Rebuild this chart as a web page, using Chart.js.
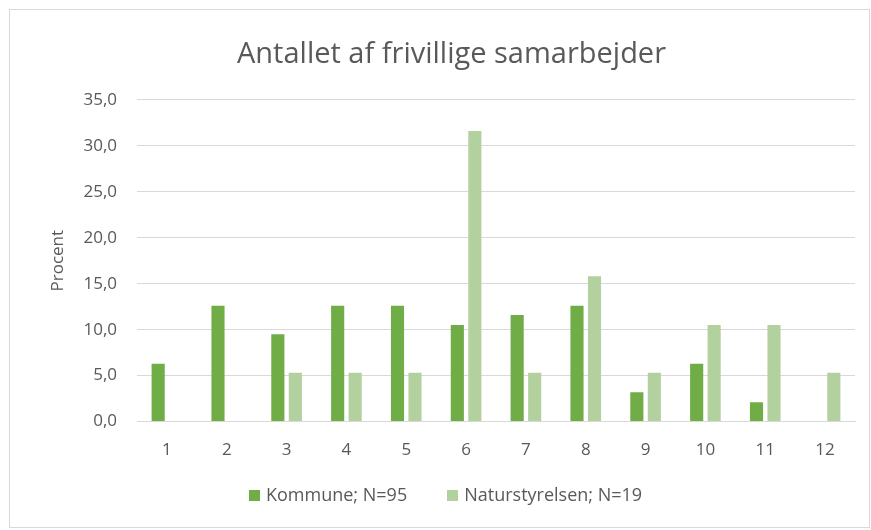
<!DOCTYPE html>
<html>
<head>
<meta charset="utf-8">
<script src="https://cdn.jsdelivr.net/npm/chart.js@4/dist/chart.umd.min.js"></script>
<style>
  html, body { margin: 0; padding: 0; background: #fff; }
  #wrap {
    position: absolute; left: 9px; top: 9px;
    width: 859px; height: 517px;
    border: 1px solid #d9d9d9;
  }
  canvas { display: block; }
  #legend {
    position: absolute; left: 239px; top: 472px;
    white-space: nowrap;
    font-family: 'Open Sans', 'Noto Sans', sans-serif;
    font-size: 18px; color: #595959;
  }
  #legend .item { display: inline-block; margin-right: 40px; }
  #legend .box {
    display: inline-block; width: 11px; height: 11px;
    margin-right: 6px; vertical-align: 0px;
  }
</style>
</head>
<body>
<div id="wrap">
  <canvas id="chart" width="859" height="517"></canvas>
  <div id="legend"></div>
</div>
<script>
// Chart data
const categories = ['1', '2', '3', '4', '5', '6', '7', '8', '9', '10', '11', '12'];
const kommuneValues = [6.3, 12.6, 9.5, 12.6, 12.6, 10.5, 11.6, 12.6, 3.2, 6.3, 2.1, 0];
const naturValues = [0, 0, 5.3, 5.3, 5.3, 31.6, 5.3, 15.8, 5.3, 10.5, 10.5, 5.3];
const seriesLabels = ['Kommune; N=95', 'Naturstyrelsen; N=19'];
const seriesColors = ['#70ad47', '#b3d19f'];
const yTicks = [0, 5, 10, 15, 20, 25, 30, 35];

const FONT = "'Open Sans', 'Noto Sans', sans-serif";
const textGrey = '#595959';

// Legend as html, under the plot
const legendEl = document.getElementById('legend');
seriesLabels.forEach((label, i) => {
  const item = document.createElement('span');
  item.className = 'item';
  const box = document.createElement('span');
  box.className = 'box';
  box.style.background = seriesColors[i];
  item.appendChild(box);
  item.appendChild(document.createTextNode(label));
  legendEl.appendChild(item);
});

const ctx = document.getElementById('chart').getContext('2d');
new Chart(ctx, {
  type: 'bar',
  data: {
    labels: categories,
    datasets: [
      {
        label: seriesLabels[0],
        data: kommuneValues,
        backgroundColor: seriesColors[0],
        barPercentage: 0.75,
        categoryPercentage: 0.585
      },
      {
        label: seriesLabels[1],
        data: naturValues,
        backgroundColor: seriesColors[1],
        barPercentage: 0.75,
        categoryPercentage: 0.585
      }
    ]
  },
  options: {
    responsive: false,
    animation: false,
    layout: { padding: { left: 38, right: 14, top: 14, bottom: 49 } },
    plugins: {
      title: {
        display: true,
        text: 'Antallet af frivillige samarbejder',
        color: textGrey,
        font: { family: FONT, size: 29, weight: 'normal' },
        padding: { top: 13, bottom: 28 }
      },
      legend: { display: false },
      tooltip: { enabled: false }
    },
    scales: {
      x: {
        grid: { display: false, drawTicks: false },
        border: { color: '#d9d9d9' },
        ticks: { color: textGrey, font: { family: FONT, size: 17 }, padding: 18 }
      },
      y: {
        min: 0,
        max: 35,
        afterBuildTicks: scale => { scale.ticks = yTicks.map(v => ({ value: v })); },
        afterFit: scale => { scale.width = 89; },
        grid: { color: '#d9d9d9', drawTicks: false },
        border: { display: false },
        ticks: {
          color: textGrey,
          font: { family: FONT, size: 17 },
          padding: 20,
          callback: v => v.toFixed(1).replace('.', ',')
        },
        title: {
          display: true,
          text: 'Procent',
          color: textGrey,
          font: { family: FONT, size: 17 },
          padding: { top: 0, bottom: 0 }
        }
      }
    }
  }
});
</script>
</body>
</html>
